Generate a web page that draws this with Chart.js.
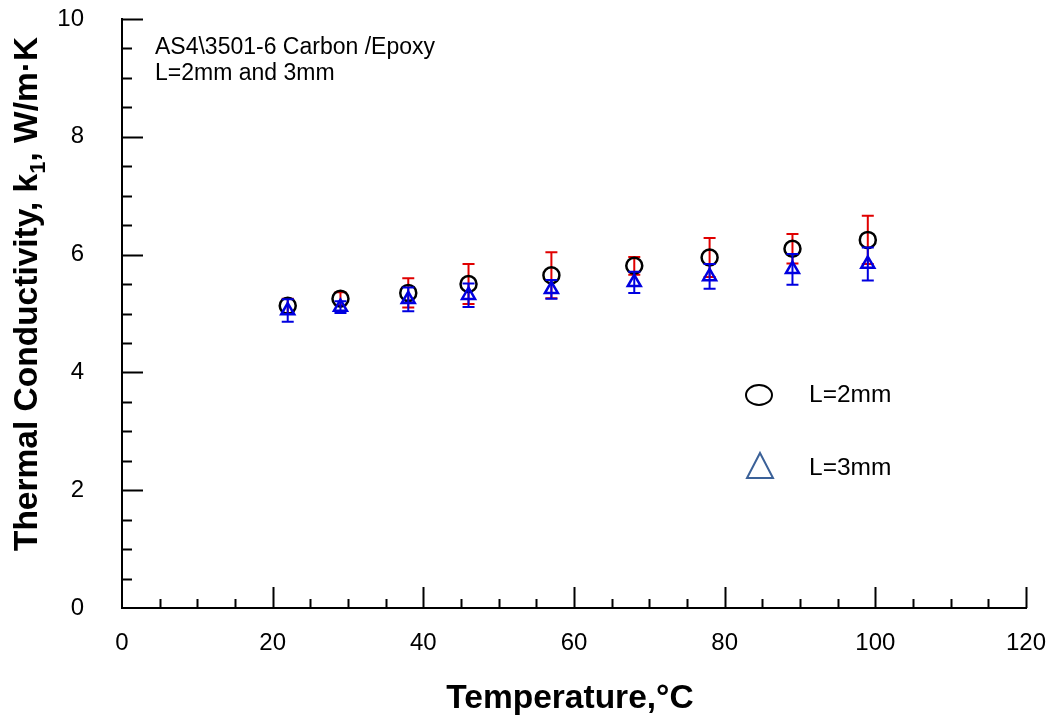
<!DOCTYPE html>
<html lang="en">
  <head>
    <meta charset="UTF-8" />
    <title>Thermal Conductivity vs Temperature</title>
    <script src="https://cdn.jsdelivr.net/npm/chart.js"></script>
    <style>
      html, body { margin: 0; padding: 0; background: #fff; }
      #wrap { width: 1050px; height: 721px; }
    </style>
  </head>
  <body>
    <div id="wrap"><canvas id="myChart" width="1050" height="721"></canvas></div>

    <script>
      // data
      const temps = [22, 29, 38, 46, 57, 68, 78, 89, 99];
      const k2mm = [5.13, 5.25, 5.35, 5.50, 5.65, 5.81, 5.95, 6.10, 6.25];
      const err2mm = [0.12, 0.11, 0.25, 0.34, 0.39, 0.15, 0.33, 0.25, 0.41];
      const k3mm = [5.05, 5.11, 5.24, 5.31, 5.41, 5.53, 5.63, 5.75, 5.84];
      const err3mm = [0.19, 0.10, 0.20, 0.20, 0.16, 0.18, 0.21, 0.26, 0.28];
      const xTicks = [0, 20, 40, 60, 80, 100, 120];
      const yTicks = [0, 2, 4, 6, 8, 10];

      const FONT = "'Liberation Sans', Arial, sans-serif";

      // error bars, drawn through the scales before each dataset's markers
      const errorBars = {
        id: "errorBars",
        beforeDatasetDraw(chart, args) {
          const ds = chart.data.datasets[args.index];
          if (!ds.errors) return;
          const { ctx, scales: { x, y } } = chart;
          ctx.save();
          ctx.strokeStyle = ds.errorColor;
          ctx.lineWidth = 2;
          ds.data.forEach((p, i) => {
            const px = x.getPixelForValue(p.x);
            const top = y.getPixelForValue(p.y + ds.errors[i]);
            const bot = y.getPixelForValue(p.y - ds.errors[i]);
            ctx.beginPath();
            ctx.moveTo(px, top); ctx.lineTo(px, bot);
            ctx.moveTo(px - 6, top); ctx.lineTo(px + 6, top);
            ctx.moveTo(px - 6, bot); ctx.lineTo(px + 6, bot);
            ctx.stroke();
          });
          ctx.restore();
        },
      };

      // inward ticks, titles, note and legend
      const decorations = {
        id: "decorations",
        afterDraw(chart) {
          const { ctx, scales: { x, y } } = chart;
          ctx.save();
          ctx.strokeStyle = "#000";
          ctx.lineWidth = 2;
          ctx.beginPath();
          for (let v = 5; v <= 120; v += 5) {
            const px = Math.round(x.getPixelForValue(v)) + 0.5;
            const len = v % 20 === 0 ? 21 : 9;
            ctx.moveTo(px, y.bottom); ctx.lineTo(px, y.bottom - len);
          }
          for (let v = 0.5; v <= 10; v += 0.5) {
            const py = Math.round(y.getPixelForValue(v)) + 0.5;
            const len = v % 2 === 0 ? 21 : 10;
            ctx.moveTo(x.left, py); ctx.lineTo(x.left + len, py);
          }
          ctx.stroke();

          ctx.fillStyle = "#000";
          // note
          ctx.font = "23px " + FONT;
          ctx.textAlign = "left";
          ctx.textBaseline = "alphabetic";
          ctx.fillText("AS4\\3501-6 Carbon /Epoxy", 155, 54);
          ctx.fillText("L=2mm and 3mm", 155, 80);

          // legend
          ctx.font = "24.5px " + FONT;
          ctx.textBaseline = "middle";
          ctx.fillText("L=2mm", 809, 395);
          ctx.fillText("L=3mm", 809, 468);
          ctx.lineWidth = 2;
          ctx.beginPath();
          ctx.ellipse(759, 395, 13, 10, 0, 0, Math.PI * 2);
          ctx.stroke();
          ctx.strokeStyle = "#3b6198";
          ctx.beginPath();
          ctx.moveTo(760, 453); ctx.lineTo(773, 478); ctx.lineTo(747, 478);
          ctx.closePath();
          ctx.stroke();

          // x title
          ctx.font = "bold 33.5px " + FONT;
          ctx.textAlign = "center";
          ctx.textBaseline = "alphabetic";
          ctx.fillText("Temperature,\u00b0C", 570, 708);

          // y title with subscript
          const parts = [
            ["Thermal Conductivity, k", "bold 33.5px " + FONT, 0],
            ["1", "bold 22px " + FONT, 8],
            [", W/m\u00b7K", "bold 33.5px " + FONT, 0],
          ];
          let total = 0;
          parts.forEach((p) => { ctx.font = p[1]; total += ctx.measureText(p[0]).width; });
          ctx.translate(37, 294);
          ctx.rotate(-Math.PI / 2);
          ctx.textAlign = "left";
          let cx = -total / 2;
          parts.forEach((p) => {
            ctx.font = p[1];
            ctx.fillText(p[0], cx, p[2]);
            cx += ctx.measureText(p[0]).width;
          });
          ctx.restore();
        },
      };

      const ctx = document.getElementById("myChart").getContext("2d");
      new Chart(ctx, {
        type: "scatter",
        data: {
          datasets: [
            {
              label: "L=2mm",
              data: temps.map((t, i) => ({ x: t, y: k2mm[i] })),
              errors: err2mm,
              errorColor: "#e00000",
              pointStyle: "circle",
              pointRadius: 8,
              pointHoverRadius: 8,
              borderColor: "#000",
              backgroundColor: "rgba(0,0,0,0)",
              borderWidth: 2.5,
              order: 2,
            },
            {
              label: "L=3mm",
              data: temps.map((t, i) => ({ x: t, y: k3mm[i] })),
              errors: err3mm,
              errorColor: "#0000e0",
              pointStyle: "triangle",
              pointRadius: 7.5,
              pointHoverRadius: 7.5,
              borderColor: "#0000e0",
              backgroundColor: "rgba(0,0,0,0)",
              borderWidth: 2.5,
              order: 1,
            },
          ],
        },
        options: {
          responsive: false,
          animation: false,
          events: [],
          layout: { padding: { top: 19, right: 24, left: 0, bottom: 0 } },
          plugins: { legend: { display: false }, tooltip: { enabled: false } },
          scales: {
            x: {
              type: "linear",
              min: 0,
              max: 120,
              afterFit: (s) => { s.height = 113; s.paddingLeft = 0; s.paddingRight = 0; },
              afterBuildTicks: (s) => { s.ticks = xTicks.map((v) => ({ value: v })); },
              grid: { display: false, drawTicks: false },
              border: { display: true, color: "#000", width: 2 },
              ticks: { color: "#000", padding: 21, font: { family: FONT, size: 24 } },
            },
            y: {
              type: "linear",
              min: 0,
              max: 10,
              afterFit: (s) => { s.width = 122; s.paddingTop = 0; s.paddingBottom = 0; },
              afterBuildTicks: (s) => { s.ticks = yTicks.map((v) => ({ value: v })); },
              grid: { display: false, drawTicks: false },
              border: { display: true, color: "#000", width: 2 },
              ticks: { color: "#000", padding: 38, font: { family: FONT, size: 24 } },
            },
          },
        },
        plugins: [errorBars, decorations],
      });
    </script>
  </body>
</html>
